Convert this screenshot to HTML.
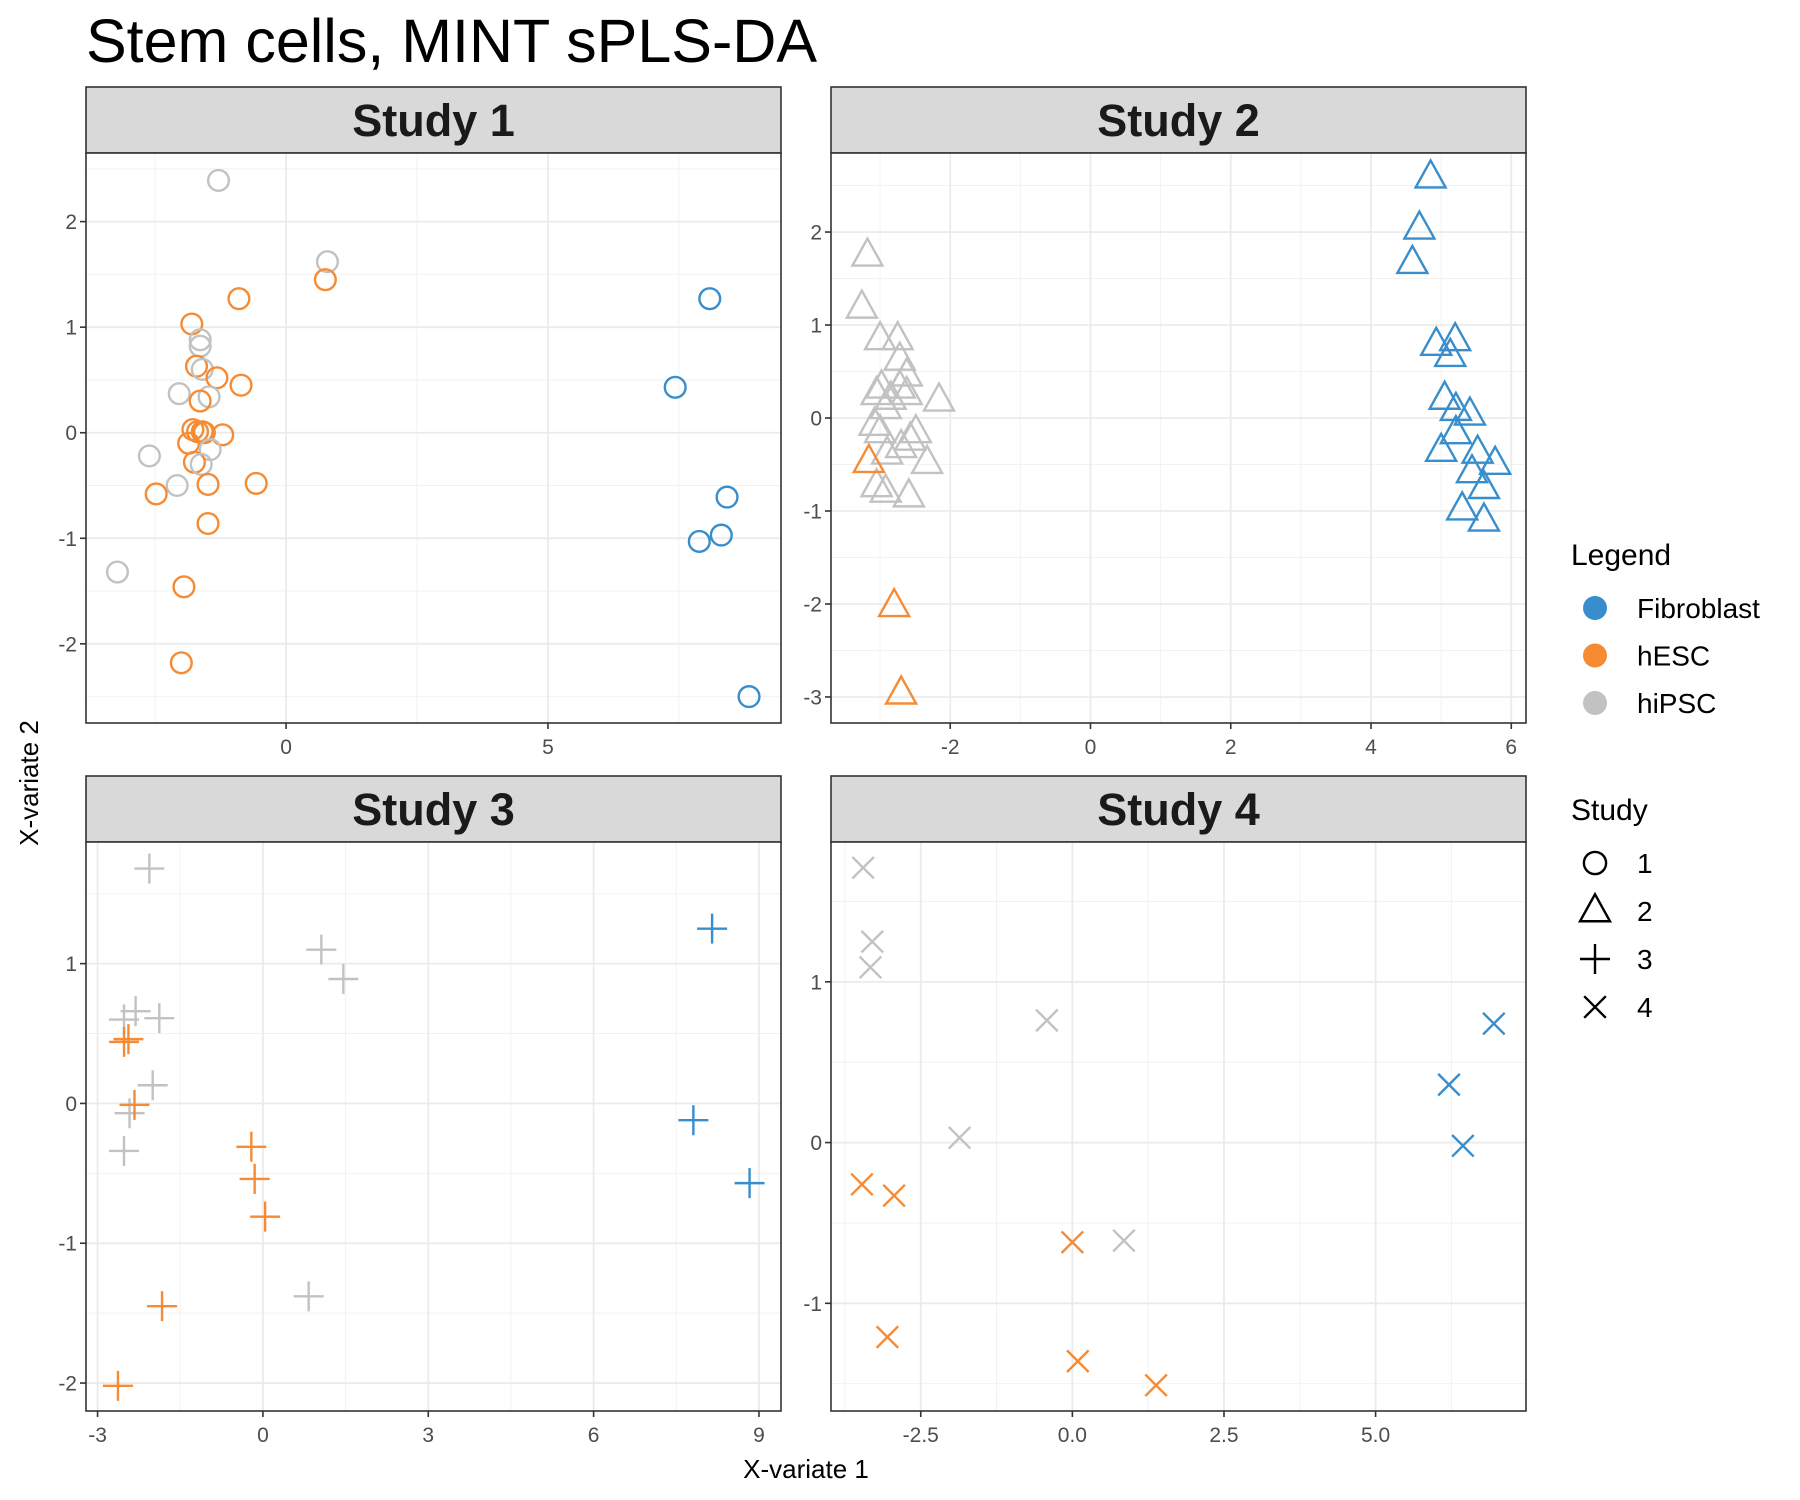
<!DOCTYPE html>
<html><head><meta charset="utf-8">
<style>
html,body{margin:0;padding:0;background:#fff;}
svg{display:block;font-family:"Liberation Sans",Arial,sans-serif;}
</style></head>
<body>
<svg id="chart" width="1800" height="1500" viewBox="0 0 1800 1500" xmlns="http://www.w3.org/2000/svg">
<text x="86" y="62" font-size="61" fill="#000">Stem cells, MINT sPLS-DA</text>
<text x="806" y="1478" font-size="26" text-anchor="middle" fill="#000">X-variate 1</text>
<text transform="translate(38,783) rotate(-90)" font-size="26" text-anchor="middle" fill="#000">X-variate 2</text>
<g id="panels"></g>
<g id="legend"></g>
</svg>
<script>
const COLORS = {F:'#388ECC', E:'#F68B33', P:'#C2C2C2'};

// Study 1 (circles)
const s1Group = ['P','P','E','E','F','E','P','P','E','P','E','E','P','P','E','F','E','E','E','E','E','E','P','P','E','P','E','E','P','E','F','F','F','P','E','E','F','E'];
const s1X = [-1.29,0.79,0.75,-0.90,8.09,-1.80,-1.64,-1.64,-1.71,-1.60,-1.32,-0.86,-2.04,-1.47,-1.64,7.43,-1.78,-1.69,-1.60,-1.56,-1.21,-1.86,-1.45,-2.61,-1.75,-1.62,-1.49,-0.57,-2.08,-2.48,8.42,7.89,8.31,-3.22,-1.49,-1.95,8.84,-2.00];
const s1Y = [2.39,1.62,1.45,1.27,1.27,1.03,0.88,0.82,0.63,0.60,0.52,0.45,0.37,0.34,0.30,0.43,0.03,0.01,0.01,0.00,-0.02,-0.10,-0.16,-0.22,-0.28,-0.30,-0.49,-0.48,-0.50,-0.58,-0.61,-1.03,-0.97,-1.32,-0.86,-1.46,-2.50,-2.18];
const s1XTicks = [0,5];
const s1YTicks = [-2,-1,0,1,2];

// Study 2 (triangles)
const s2Group = ['F','F','F','F','F','F','F','F','F','F','F','F','F','F','F','F','F','P','P','P','P','P','P','P','P','P','P','P','P','P','P','P','P','P','P','P','P','P','P','P','E','E','E'];
const s2X = [4.85,4.69,4.59,4.93,5.20,5.13,5.05,5.21,5.41,5.21,5.00,5.52,5.77,5.44,5.61,5.30,5.61,-3.18,-3.26,-3.00,-2.75,-2.72,-2.62,-2.98,-2.72,-3.05,-2.62,-2.85,-2.16,-2.92,-3.08,-3.00,-2.49,-2.57,-2.70,-2.90,-2.33,-3.05,-2.92,-2.59,-3.16,-2.80,-2.70];
const s2Y = [2.59,2.04,1.67,0.79,0.84,0.67,0.21,0.09,0.04,-0.16,-0.35,-0.37,-0.49,-0.58,-0.75,-0.98,-1.10,1.75,1.19,0.85,0.85,0.63,0.46,0.33,0.33,0.26,0.26,0.21,0.19,0.11,-0.07,-0.15,-0.15,-0.23,-0.31,-0.38,-0.48,-0.73,-0.79,-0.84,-0.47,-2.02,-2.96];
const s2XTicks = [-2,0,2,4,6];
const s2YTicks = [-3,-2,-1,0,1,2];

// Study 3 (plus)
const s3Group = ['P','P','P','P','P','P','P','P','P','P','E','E','E','E','E','E','E','E','F','F','F'];
const s3X = [-2.06,1.06,1.46,-2.31,-2.52,-1.88,-2.00,-2.42,-2.52,0.83,-2.52,-2.44,-2.33,-0.21,-0.15,0.04,-1.83,-2.63,8.15,7.81,8.83];
const s3Y = [1.68,1.10,0.89,0.66,0.60,0.61,0.13,-0.07,-0.34,-1.38,0.44,0.46,-0.01,-0.31,-0.54,-0.81,-1.45,-2.02,1.25,-0.12,-0.57];
const s3XTicks = [-3,0,3,6,9];
const s3YTicks = [-2,-1,0,1];

// Study 4 (cross)
const s4Group = ['P','P','P','P','P','P','E','E','E','E','E','E','F','F','F'];
const s4X = [-3.45,-3.30,-3.33,-0.42,-1.86,0.85,-3.47,-2.94,-3.05,0.00,0.09,1.38,6.95,6.21,6.44];
const s4Y = [1.71,1.25,1.09,0.76,0.03,-0.61,-0.26,-0.33,-1.21,-0.62,-1.36,-1.51,0.74,0.36,-0.02];
const s4XTicks = [-2.5,0.0,2.5,5.0];
const s4XTickLabels = ['-2.5','0.0','2.5','5.0'];
const s4YTicks = [-1,0,1];

const NS = 'http://www.w3.org/2000/svg';
function mk(tag, attrs, parent){
  const e = document.createElementNS(NS, tag);
  for (const k in attrs) e.setAttribute(k, attrs[k]);
  parent.appendChild(e);
  return e;
}

const panels = [
  {title:'Study 1', x0:86, x1:781, sy:87, py0:153, py1:723, xmin:-3.82, xmax:9.45, ymin:-2.75, ymax:2.65, xt:s1XTicks, xl:null, yt:s1YTicks, xm:[-2.5,2.5,7.5], ym:[-2.5,-1.5,-0.5,0.5,1.5,2.5], g:s1Group, xs:s1X, ys:s1Y, shape:'circle'},
  {title:'Study 2', x0:831, x1:1526, sy:87, py0:153, py1:723, xmin:-3.70, xmax:6.21, ymin:-3.28, ymax:2.85, xt:s2XTicks, xl:null, yt:s2YTicks, xm:[-3,-1,1,3,5], ym:[-2.5,-1.5,-0.5,0.5,1.5,2.5], g:s2Group, xs:s2X, ys:s2Y, shape:'triangle'},
  {title:'Study 3', x0:86, x1:781, sy:776, py0:842, py1:1411, xmin:-3.21, xmax:9.40, ymin:-2.20, ymax:1.87, xt:s3XTicks, xl:null, yt:s3YTicks, xm:[-1.5,1.5,4.5,7.5], ym:[-1.5,-0.5,0.5,1.5], g:s3Group, xs:s3X, ys:s3Y, shape:'plus'},
  {title:'Study 4', x0:831, x1:1526, sy:776, py0:842, py1:1411, xmin:-3.98, xmax:7.48, ymin:-1.67, ymax:1.87, xt:s4XTicks, xl:s4XTickLabels, yt:s4YTicks, xm:[-3.75,-1.25,1.25,3.75,6.25], ym:[-1.5,-0.5,0.5,1.5], g:s4Group, xs:s4X, ys:s4Y, shape:'cross'}
];

function drawShape(parent, shape, cx, cy, color, size, sw){
  let e;
  if (shape==='circle'){
    e = mk('circle',{cx:cx,cy:cy,r:size*0.37,fill:'none',stroke:color,'stroke-width':sw},parent);
  } else if (shape==='triangle'){
    const h = size*0.9, w = size;
    e = mk('polygon',{points:`${cx},${cy-h*0.62} ${cx-w/2},${cy+h*0.38} ${cx+w/2},${cy+h*0.38}`,fill:'none',stroke:color,'stroke-width':sw},parent);
  } else if (shape==='plus'){
    const a = size/2;
    e = mk('path',{d:`M${cx-a},${cy}H${cx+a}M${cx},${cy-a}V${cy+a}`,fill:'none',stroke:color,'stroke-width':sw},parent);
  } else {
    const a = size*0.36;
    e = mk('path',{d:`M${cx-a},${cy-a}L${cx+a},${cy+a}M${cx-a},${cy+a}L${cx+a},${cy-a}`,fill:'none',stroke:color,'stroke-width':sw},parent);
  }
  return e;
}

const root = document.getElementById('panels');
panels.forEach((p, i) => {
  const g = mk('g',{},root);
  
  
  const X = v => p.x0 + (v - p.xmin) / (p.xmax - p.xmin) * (p.x1 - p.x0);
  const Y = v => p.py1 - (v - p.ymin) / (p.ymax - p.ymin) * (p.py1 - p.py0);
  const strip = mk('rect',{x:p.x0,y:p.sy,width:p.x1-p.x0,height:p.py0-p.sy,fill:'#d9d9d9',stroke:'#333','stroke-width':1.6},g);
  
  
  const st = mk('text',{x:(p.x0+p.x1)/2,y:p.sy+(p.py0-p.sy)/2+16,'font-size':45,'font-weight':'bold','text-anchor':'middle',fill:'#1a1a1a'},g);
  st.textContent = p.title;
  
  
  mk('rect',{x:p.x0,y:p.py0,width:p.x1-p.x0,height:p.py1-p.py0,fill:'#fff'},g);
  p.xm.forEach(v => { const x=X(v); if (x>p.x0&&x<p.x1) mk('line',{x1:x,x2:x,y1:p.py0,y2:p.py1,stroke:'#f2f2f2','stroke-width':1},g); });
  p.ym.forEach(v => { const y=Y(v); if (y>p.py0&&y<p.py1) mk('line',{x1:p.x0,x2:p.x1,y1:y,y2:y,stroke:'#f2f2f2','stroke-width':1},g); });
  p.xt.forEach((v,k) => {
    const x = X(v);
    mk('line',{x1:x,x2:x,y1:p.py0,y2:p.py1,stroke:'#ebebeb','stroke-width':1.8},g);
    mk('line',{x1:x,x2:x,y1:p.py1,y2:p.py1+6,stroke:'#333','stroke-width':1.6},g);
    const t = mk('text',{x:x,y:p.py1+31,'font-size':21,'text-anchor':'middle',fill:'#4d4d4d'},g);
    t.textContent = p.xl ? p.xl[k] : String(v);
    
    
  });
  p.yt.forEach(v => {
    const y = Y(v);
    mk('line',{x1:p.x0,x2:p.x1,y1:y,y2:y,stroke:'#ebebeb','stroke-width':1.8},g);
    mk('line',{x1:p.x0-6,x2:p.x0,y1:y,y2:y,stroke:'#333','stroke-width':1.6},g);
    const t = mk('text',{x:p.x0-9,y:y+7.5,'font-size':21,'text-anchor':'end',fill:'#4d4d4d'},g);
    t.textContent = String(v);
    
    
  });
  const sizes = {circle:28, triangle:30, plus:30, cross:30};
  p.xs.forEach((v,k) => {
    const e = drawShape(g, p.shape, X(v), Y(p.ys[k]), COLORS[p.g[k]], sizes[p.shape], 2.4);
    
    
  });
  mk('rect',{x:p.x0,y:p.py0,width:p.x1-p.x0,height:p.py1-p.py0,fill:'none',stroke:'#333','stroke-width':1.6},g);
});

const legendNames = ['Fibroblast','hESC','hiPSC'];
const legendKeys = ['F','E','P'];
const studyLabels = ['1','2','3','4'];
const studyShapes = ['circle','triangle','plus','cross'];
const lg = document.getElementById('legend');
let t = mk('text',{x:1571,y:565,'font-size':30,fill:'#000'},lg);
t.textContent = 'Legend';


legendNames.forEach((n,k) => {
  const y = 608 + k*47.5;
  const c = mk('circle',{cx:1595,cy:y,r:12,fill:COLORS[legendKeys[k]]},lg);
  
  
  const tt = mk('text',{x:1637,y:y+10,'font-size':28,fill:'#000'},lg);
  tt.textContent = n;
  
  
});
t = mk('text',{x:1571,y:820,'font-size':30,fill:'#000'},lg);
t.textContent = 'Study';


studyLabels.forEach((n,k) => {
  const y = 863 + k*48;
  const e = drawShape(lg, studyShapes[k], 1595, y, '#000', 30, 2.4);
  
  
  const tt = mk('text',{x:1637,y:y+10,'font-size':28,fill:'#000'},lg);
  tt.textContent = n;
  
  
});
</script>
</body></html>
